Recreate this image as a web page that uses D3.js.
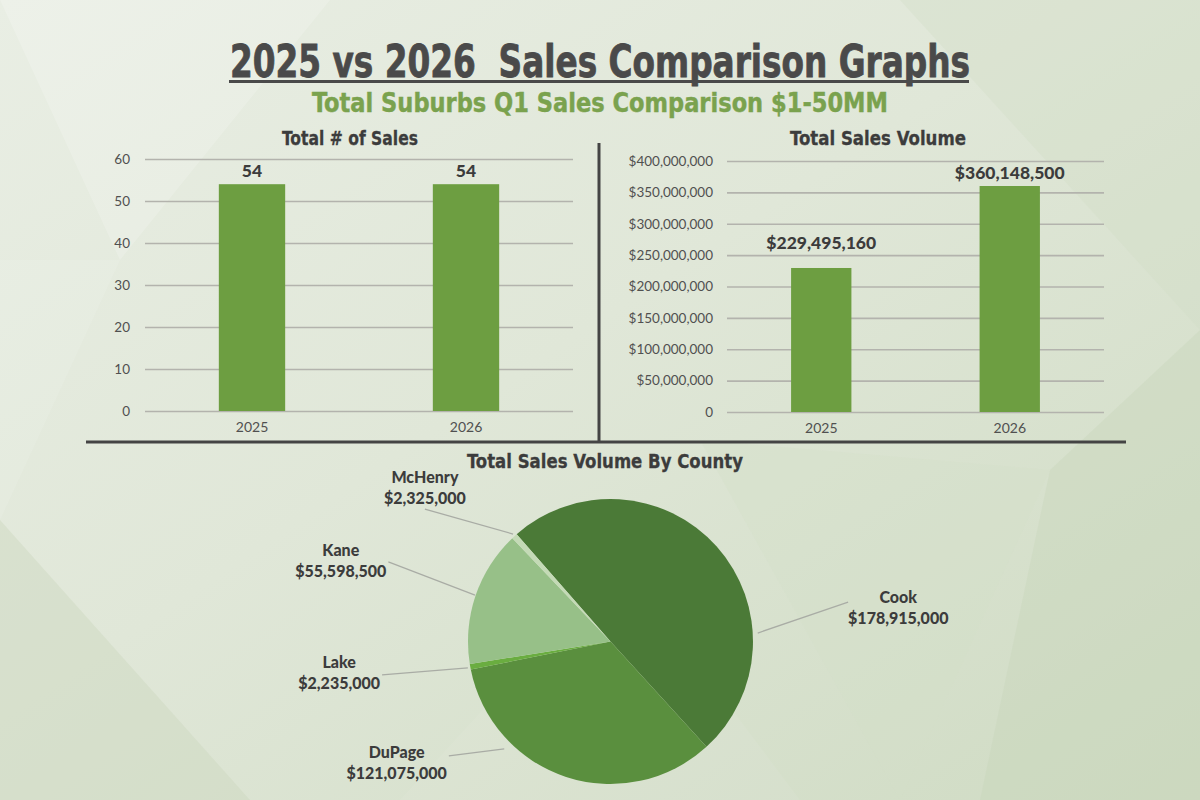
<!DOCTYPE html>
<meta charset="utf-8" />
<head>
  <script src="https://d3js.org/d3.v7.min.js"></script>
  <style>
    body { margin: 0; }
    svg { display: block; }
  </style>
</head>
<body>
  <div id="chart"></div>
</body>
<script>
  // ---- data ----
  var years = ["2025", "2026"];
  var salesCount = [54, 54];
  var salesVolume = [229495160, 360148500];
  var countTicks = [0, 10, 20, 30, 40, 50, 60];
  var volumeTicks = [0, 50e6, 100e6, 150e6, 200e6, 250e6, 300e6, 350e6, 400e6];
  var counties = ["Cook", "DuPage", "Lake", "Kane", "McHenry"];
  var countyVolume = [178915000, 121075000, 2235000, 55598500, 2325000];

  // ---- look ----
  var W = 1200, H = 800;
  var barColor = "#6d9e41";
  var countyColors = ["#4b7a37", "#5a8f3e", "#6aad40", "#97c088", "#c4dab6"];
  var dark = "#3c3c3c";
  var condensed = "'Liberation Sans Narrow', 'DejaVu Sans Condensed', 'Roboto Condensed', sans-serif";
  var labelFont = "Lato, 'Open Sans', sans-serif";

  // leader line / label layout for the pie (degrees clockwise from 12 o'clock, multiples of radius)
  var labelLayout = [
    { lineAngle: 86.7, lineIn: 1.035, labelAngle: 80.6, labelDist: 1.69, align: "start", dy: 1 },
    { lineAngle: 224.7, lineIn: 1.06, labelAngle: 234.7, labelDist: 1.39, align: "end", dy: 2 },
    { lineAngle: 259.5, lineIn: 1.018, labelAngle: 261.7, labelDist: 1.62, align: "end", dy: -7 },
    { lineAngle: 288.9, lineIn: 1.005, labelAngle: 289.7, labelDist: 1.656, align: "end", dy: -6 },
    { lineAngle: 317.8, lineIn: 1.018, labelAngle: 305.5, labelDist: 1.6, align: "above", dy: -26 }
  ];

  var svg = d3.select("#chart").append("svg")
    .attr("width", W).attr("height", H);

  // background
  var defs = svg.append("defs");
  var grad = defs.append("linearGradient").attr("id", "bg")
    .attr("x1", "0%").attr("y1", "0%").attr("x2", "100%").attr("y2", "100%");
  grad.append("stop").attr("offset", "0%").attr("stop-color", "#e9eee4");
  grad.append("stop").attr("offset", "45%").attr("stop-color", "#e0e7d8");
  grad.append("stop").attr("offset", "100%").attr("stop-color", "#cfdbc3");
  svg.append("rect").attr("width", W).attr("height", H).attr("fill", "url(#bg)");

  // faint facets
  var facets = [
    ["0,0 330,0 120,260", "#ffffff", 0.18],
    ["0,260 120,260 0,520", "#ffffff", 0.10],
    ["900,0 1200,0 1200,330", "#d2dec6", 0.35],
    ["1050,470 1200,330 1200,800 980,800", "#c6d4b8", 0.35],
    ["0,520 250,800 0,800", "#cbd8bf", 0.45],
    ["400,800 620,560 800,800", "#ffffff", 0.06],
    ["700,440 1050,470 900,800", "#d3dfc8", 0.35]
  ];
  svg.append("g").selectAll("polygon").data(facets).join("polygon")
    .attr("points", function (d) { return d[0]; })
    .attr("fill", function (d) { return d[1]; })
    .attr("opacity", function (d) { return d[2]; });

  // titles
  svg.append("text")
    .attr("x", 600).attr("y", 77)
    .attr("text-anchor", "middle")
    .attr("textLength", 740).attr("lengthAdjust", "spacingAndGlyphs")
    .style("font-family", condensed).style("font-weight", 700)
    .style("font-size", "45px").style("fill", "#4a4a4a")
    .style("stroke", "#4a4a4a").style("stroke-width", 0.8)
    .style("white-space", "pre")
    .text("2025 vs 2026  Sales Comparison Graphs");
  svg.append("rect").attr("x", 229).attr("y", 80).attr("width", 740).attr("height", 3)
    .attr("fill", "#4a4a4a");

  svg.append("text")
    .attr("x", 600).attr("y", 112)
    .attr("text-anchor", "middle")
    .attr("textLength", 576).attr("lengthAdjust", "spacingAndGlyphs")
    .style("font-family", condensed).style("font-weight", 700)
    .style("font-size", "26px").style("fill", "#7aa24e")
    .style("stroke", "#7aa24e").style("stroke-width", 0.4)
    .text("Total Suburbs Q1 Sales Comparison $1-50MM");

  function subTitle(x, y, len, txt) {
    svg.append("text")
      .attr("x", x).attr("y", y)
      .attr("text-anchor", "middle")
      .attr("textLength", len).attr("lengthAdjust", "spacingAndGlyphs")
      .style("font-family", condensed).style("font-weight", 700)
      .style("font-size", "20px").style("fill", dark)
      .style("stroke", dark).style("stroke-width", 0.3)
      .text(txt);
  }
  subTitle(350, 145, 136, "Total # of Sales");
  subTitle(878, 145, 176, "Total Sales Volume");
  subTitle(605, 468, 276, "Total Sales Volume By County");

  // dividers
  svg.append("line").attr("x1", 599).attr("x2", 599).attr("y1", 143).attr("y2", 442)
    .attr("stroke", "#444").attr("stroke-width", 3);
  svg.append("line").attr("x1", 86).attr("x2", 1126).attr("y1", 442).attr("y2", 442)
    .attr("stroke", "#444").attr("stroke-width", 3);

  // ---- bar chart helper ----
  function barChart(opts) {
    var g = svg.append("g");
    var x = d3.scaleBand().domain(years).range([opts.x0, opts.x1]).padding(0);
    var y = d3.scaleLinear().domain(opts.domain).range([opts.yBottom, opts.yTop]);

    var yAxis = g.append("g")
      .attr("transform", "translate(" + opts.x0 + ",0)")
      .call(d3.axisLeft(y).tickValues(opts.ticks)
        .tickSize(-(opts.x1 - opts.x0)).tickPadding(opts.pad)
        .tickFormat(opts.fmt));
    yAxis.select(".domain").remove();
    yAxis.selectAll(".tick line").attr("stroke", "#b3b3ad").attr("stroke-width", 1.6);
    yAxis.selectAll(".tick text")
      .style("font-family", labelFont).style("font-size", "13.5px").style("fill", "#505050");

    var xAxis = g.append("g")
      .attr("transform", "translate(0," + opts.yBottom + ")")
      .call(d3.axisBottom(x).tickSize(0).tickPadding(11));
    xAxis.select(".domain").remove();
    xAxis.selectAll(".tick text")
      .style("font-family", labelFont).style("font-size", "14px").style("fill", "#505050");

    var bw = x.bandwidth() * opts.barFrac;
    g.selectAll("rect.bar").data(opts.values).join("rect")
      .attr("class", "bar")
      .attr("x", function (d, i) { return x(years[i]) + (x.bandwidth() - bw) / 2; })
      .attr("width", bw)
      .attr("y", function (d) { return y(d); })
      .attr("height", function (d) { return y(0) - y(d); })
      .attr("fill", barColor);

    g.selectAll("text.val").data(opts.values).join("text")
      .attr("class", "val")
      .attr("x", function (d, i) { return x(years[i]) + x.bandwidth() / 2; })
      .attr("y", function (d, i) { return y(d) - opts.lift[i]; })
      .attr("text-anchor", "middle")
      .style("font-family", labelFont).style("font-weight", 900)
      .style("font-size", "17.5px").style("fill", dark)
      .text(opts.valFmt);
  }

  barChart({
    x0: 145, x1: 573, yTop: 159, yBottom: 411,
    domain: [0, 60], ticks: countTicks, pad: 15,
    fmt: d3.format("d"),
    values: salesCount, barFrac: 0.31, lift: [7, 7],
    valFmt: function (d) { return d3.format("d")(d); }
  });

  barChart({
    x0: 727, x1: 1104, yTop: 161, yBottom: 412,
    domain: [0, 400e6], ticks: volumeTicks, pad: 14,
    fmt: function (d) { return d === 0 ? "0" : "$" + d3.format(",")(d); },
    values: salesVolume, barFrac: 0.32, lift: [19, 7],
    valFmt: function (d) { return "$" + d3.format(",")(d); }
  });

  // ---- pie ----
  var cx = 610.5, cy = 641.5, r = 142.5;
  var rad = Math.PI / 180;
  var pieData = counties.map(function (c, i) { return { name: c, value: countyVolume[i], i: i }; });
  var start = -41.2 * rad;
  var pie = d3.pie().sort(null).value(function (d) { return d.value; })
    .startAngle(start).endAngle(start + 2 * Math.PI);
  var arc = d3.arc().innerRadius(0).outerRadius(r);

  var pg = svg.append("g").attr("transform", "translate(" + cx + "," + cy + ")");
  pg.selectAll("path").data(pie(pieData)).join("path")
    .attr("d", arc)
    .attr("fill", function (d) { return countyColors[d.data.i]; });

  function polar(angleDeg, dist) {
    var a = angleDeg * rad;
    return [dist * r * Math.sin(a), -dist * r * Math.cos(a)];
  }

  var money = function (v) { return "$" + d3.format(",")(v); };

  pieData.forEach(function (d, i) {
    var L = labelLayout[i];
    var p0 = polar(L.lineAngle, L.lineIn);
    var p1 = polar(L.labelAngle, L.labelDist);
    pg.append("line")
      .attr("x1", p0[0]).attr("y1", p0[1]).attr("x2", p1[0]).attr("y2", p1[1])
      .attr("stroke", "#a9aca5").attr("stroke-width", 1.3);

    var t = pg.append("text")
      .attr("text-anchor", "middle")
      .style("font-family", labelFont).style("font-weight", 900)
      .style("font-size", "16px").style("fill", dark);
    var s1 = t.append("tspan").text(d.name);
    var s2 = t.append("tspan").text(money(d.value));

    var boxW = Math.max(s1.node().getComputedTextLength(), s2.node().getComputedTextLength());
    var tx;
    if (L.align === "start") tx = p1[0] + boxW / 2;
    else if (L.align === "end") tx = p1[0] - 2 - boxW / 2;
    else tx = p1[0];
    s1.attr("x", tx).attr("y", p1[1] + L.dy);
    s2.attr("x", tx).attr("y", p1[1] + L.dy + 21);
  });
</script>
